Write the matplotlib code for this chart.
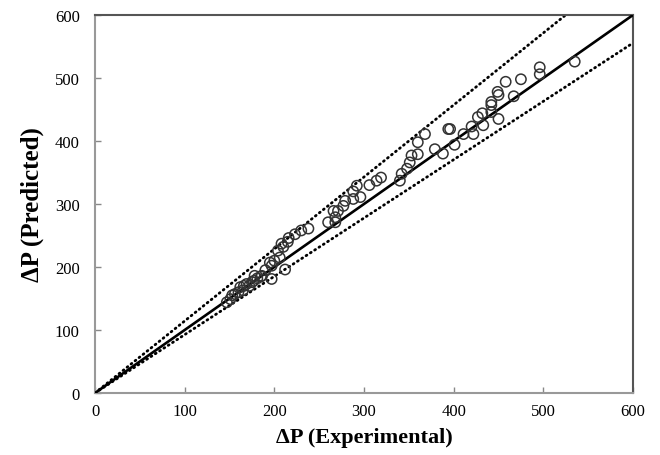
import matplotlib
matplotlib.use("Agg")
import matplotlib.pyplot as plt
import numpy as np

# Experimental vs predicted pressure drop
dp_exp = [147, 151, 153, 156, 160, 162, 165, 166, 169, 172, 175, 177, 178, 181, 185,
          186, 190, 195, 197, 197, 200, 204, 206, 208, 210, 212, 215, 216, 223, 230,
          238, 260, 266, 268, 268, 271, 277, 279, 288, 288, 292, 296, 306, 314, 319,
          340, 342, 348, 351, 353, 360, 360, 368, 379, 388, 394, 396, 401, 411, 420,
          422, 427, 432, 433, 442, 442, 442, 449, 450, 450, 458, 467, 475, 496, 496, 535]
dp_pred = [144, 149, 155, 157, 160, 168, 163, 170, 173, 170, 176, 178, 186, 182, 185,
           186, 195, 207, 202, 181, 210, 226, 215, 237, 232, 196, 240, 246, 252, 258,
           261, 271, 289, 271, 279, 289, 297, 305, 308, 320, 329, 311, 330, 337, 342,
           337, 348, 356, 366, 377, 379, 398, 411, 387, 380, 419, 419, 394, 411, 423,
           411, 438, 444, 425, 457, 462, 446, 478, 473, 435, 494, 471, 498, 517, 506, 526]

ax_range = [0, 600]
ticks = [0, 100, 200, 300, 400, 500, 600]
upper_factor = 1.143
lower_factor = 0.926

fig = plt.figure(figsize=(6.6, 4.56), dpi=100)
ax = fig.add_axes([95/660, 62/456, 538/660, 378/456])

xl = np.array(ax_range, dtype=float)
ax.plot(xl, xl, color='black', lw=1.9, zorder=3)
dot = (0, (0.35, 1.5))
ax.plot(xl, xl*upper_factor, color='black', lw=2.0, linestyle=dot,
        dash_capstyle='round', zorder=2)
ax.plot(xl, xl*lower_factor, color='black', lw=2.0, linestyle=dot,
        dash_capstyle='round', zorder=2)
ax.scatter(dp_exp, dp_pred, s=55, facecolors='none', edgecolors='#333333',
           linewidths=1.1, zorder=4)

ax.set_xlim(ax_range)
ax.set_ylim(ax_range)
ax.set_xticks(ticks)
ax.set_yticks(ticks)

serif = ['Liberation Serif', 'DejaVu Serif']
for lab in ax.get_xticklabels() + ax.get_yticklabels():
    lab.set_fontfamily(serif)
    lab.set_fontsize(12)
ax.tick_params(direction='in', length=4, width=1, color='#888888')
ax.tick_params(axis='x', pad=7)
ax.tick_params(axis='y', pad=11)

for side in ['left', 'bottom']:
    ax.spines[side].set_color('#999999')
    ax.spines[side].set_linewidth(1.5)
for side in ['top', 'right']:
    ax.spines[side].set_color('#555555')
    ax.spines[side].set_linewidth(1.5)

ax.set_xlabel('ΔP (Experimental)', fontfamily=serif, fontweight='bold', fontsize=16, labelpad=6)
ax.set_ylabel('ΔP (Predicted)', fontfamily=serif, fontweight='bold', fontsize=18, labelpad=8)

fig.savefig('out.png', dpi=100)
